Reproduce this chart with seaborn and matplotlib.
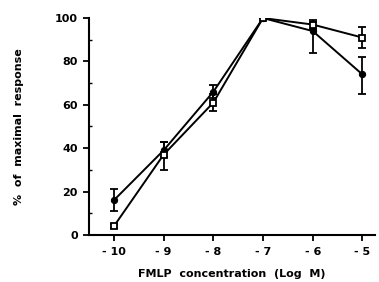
import matplotlib
matplotlib.use("Agg")
import matplotlib.pyplot as plt
import seaborn as sns
import pandas as pd
import numpy as np

log_conc = [-10, -9, -8, -7, -6, -5]
tick_labels = ["- 10", "- 9", "- 8", "- 7", "- 6", "- 5"]
filled = [16, 39, 66, 100, 94, 74]
filled_lo = [11, 36, 63, 100, 84, 65]
filled_hi = [21, 43, 69, 100, 99, 82]
open_sq = [4, 37, 61, 100, 97, 91]
open_lo = [3, 30, 57, 100, 95, 86]
open_hi = [5, 43, 65, 100, 98, 96]

sns.set_style("ticks")
plt.rcParams['font.family'] = ['DejaVu Sans']
plt.rcParams['text.color'] = 'black'
plt.rcParams['axes.labelcolor'] = 'black'
plt.rcParams['axes.edgecolor'] = 'black'

fig = plt.figure(figsize=(3.79, 2.82), dpi=100)
ax = fig.add_axes([0.235, 0.167, 0.754, 0.769])

df = pd.DataFrame({"x": log_conc * 2,
                   "y": filled + open_sq,
                   "s": ["filled"] * 6 + ["open"] * 6})

for name, y, lo, hi in [("filled", filled, filled_lo, filled_hi),
                        ("open", open_sq, open_lo, open_hi)]:
    y = np.array(y); lo = np.array(lo); hi = np.array(hi)
    ax.errorbar(log_conc, y, yerr=[y - lo, hi - y], fmt="none", ecolor="black",
                elinewidth=1.3, capsize=3, capthick=1.3, zorder=2)

sns.lineplot(data=df[df.s == "filled"], x="x", y="y", ax=ax, color="black",
             linewidth=1.4, marker="o", markersize=4.5, markerfacecolor="black",
             markeredgecolor="black", zorder=3)
sns.lineplot(data=df[df.s == "open"], x="x", y="y", ax=ax, color="black",
             linewidth=1.4, marker="s", markersize=4.5, markerfacecolor="white",
             markeredgecolor="black", markeredgewidth=1.3, zorder=4)

ax.set_xlim(-10.5, -4.75)
ax.set_ylim(0, 100)
ax.set_xticks(log_conc)
ax.set_xticklabels(tick_labels)
ax.set_yticks([0, 20, 40, 60, 80, 100])
ax.set_yticks([10, 30, 50, 70, 90], minor=True)
ax.tick_params(axis="both", which="major", direction="out", length=4, width=1.3,
               labelsize=8, colors="black")
ax.tick_params(axis="y", which="major", pad=4)
ax.tick_params(axis="x", which="major", pad=5)
ax.tick_params(axis="y", which="minor", direction="in", length=2, width=1, colors="black")
for lbl in ax.get_xticklabels() + ax.get_yticklabels():
    lbl.set_fontweight("bold")
ax.set_xlabel("FMLP  concentration  (Log  M)", fontsize=8, fontweight="bold",
              labelpad=8, color="black")
ax.set_ylabel("%  of  maximal  response", fontsize=8, fontweight="bold",
              labelpad=22, color="black")
sns.despine(ax=ax)
ax.spines["left"].set_linewidth(1.5)
ax.spines["bottom"].set_linewidth(1.5)
if ax.get_legend():
    ax.get_legend().remove()

fig.savefig("out.png", dpi=100)
